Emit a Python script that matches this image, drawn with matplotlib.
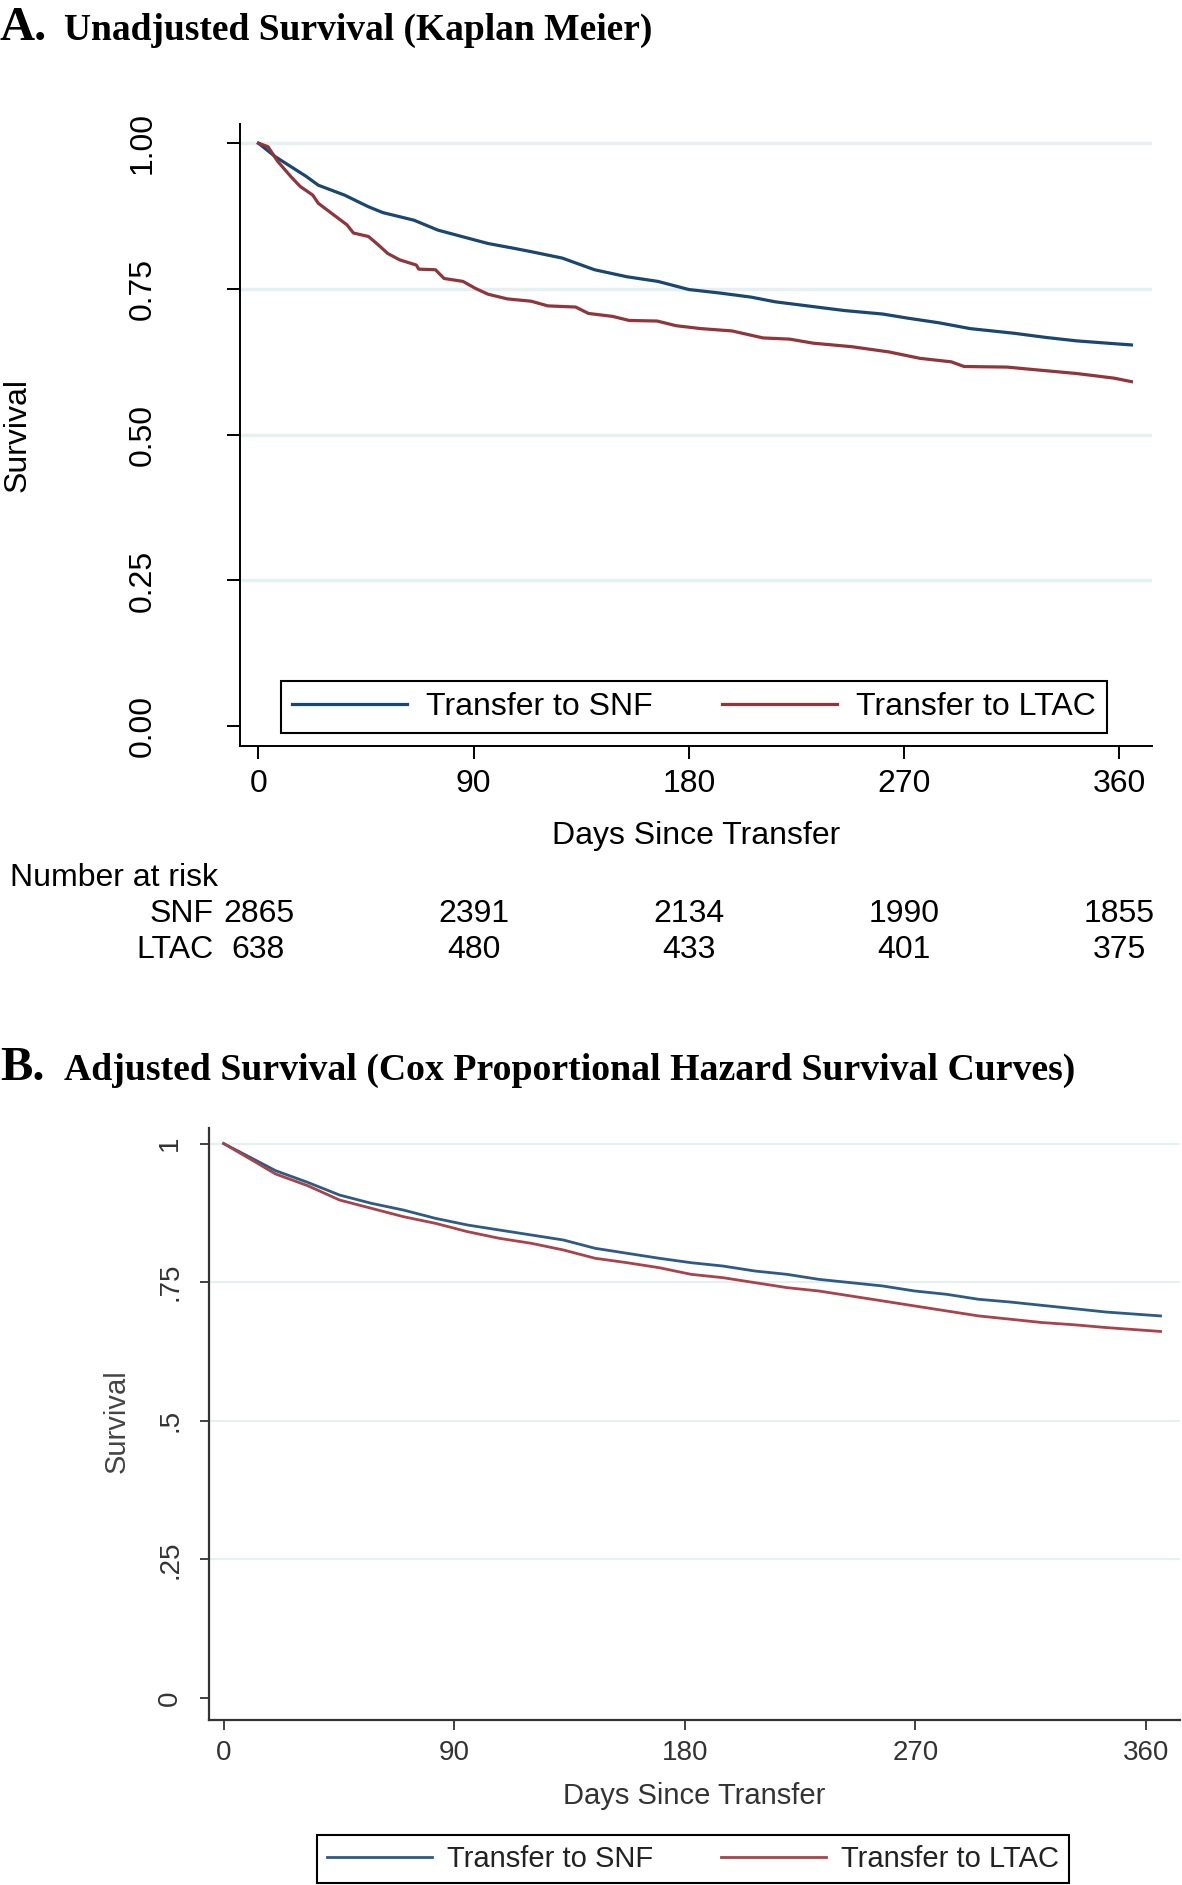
import matplotlib
matplotlib.use('Agg')
import matplotlib.pyplot as plt
import matplotlib.transforms as mtrans
from matplotlib import font_manager

# ---------------- data ----------------
# Panel A: Kaplan-Meier (unadjusted)
km_snf_days = [0, 7, 20, 25, 36, 46, 52, 65, 75, 85, 96, 106.5, 114, 127, 140.5, 154, 167, 180,
               193, 206, 216, 229.5, 245, 261, 271.4, 284.5, 297.6, 316, 329, 342, 355, 365]
km_snf_surv = [1.0, 0.977, 0.943, 0.928, 0.911, 0.891, 0.881, 0.868, 0.851, 0.840, 0.828, 0.820,
               0.814, 0.803, 0.783, 0.771, 0.763, 0.749, 0.743, 0.736, 0.728, 0.721, 0.713, 0.707,
               0.700, 0.692, 0.682, 0.674, 0.667, 0.661, 0.657, 0.654]
km_ltac_days = [0, 4, 8, 13.5, 17.4, 22.7, 25, 30.5, 37, 39.7, 46, 50, 54, 59, 66, 67, 74, 77.6,
                85.5, 90.7, 96, 104, 114, 121, 132.6, 138, 148, 155, 166.7, 174.6, 185, 198, 211,
                222, 232, 248, 263.6, 276.6, 289.7, 295, 313, 326, 342, 350, 357.8, 365]
km_ltac_surv = [1.0, 0.994, 0.969, 0.943, 0.926, 0.911, 0.897, 0.880, 0.860, 0.846, 0.840, 0.826,
                0.811, 0.800, 0.791, 0.784, 0.783, 0.768, 0.763, 0.751, 0.741, 0.733, 0.729, 0.721,
                0.719, 0.708, 0.703, 0.696, 0.695, 0.687, 0.682, 0.678, 0.666, 0.664, 0.657, 0.651,
                0.642, 0.631, 0.625, 0.617, 0.616, 0.611, 0.605, 0.601, 0.597, 0.591]

# Panel B: Cox adjusted survival curves
cox_days = [0, 10.4, 20.3, 32.8, 45.3, 57.8, 70.2, 82.7, 95.2, 107.6, 120.1, 132.6, 145.0, 157.5,
            170.0, 182.5, 194.9, 207.4, 219.9, 232.3, 244.8, 257.3, 269.7, 282.2, 294.7, 307.2,
            319.6, 332.1, 344.5, 365.7]
cox_snf_surv = [1.0, 0.975, 0.951, 0.930, 0.907, 0.892, 0.880, 0.865, 0.853, 0.844, 0.835, 0.826,
                0.811, 0.802, 0.793, 0.785, 0.779, 0.770, 0.764, 0.755, 0.749, 0.743, 0.734, 0.728,
                0.719, 0.714, 0.708, 0.702, 0.696, 0.689]
cox_ltac_surv = [1.0, 0.972, 0.945, 0.924, 0.898, 0.883, 0.868, 0.856, 0.841, 0.829, 0.820, 0.808,
                 0.793, 0.785, 0.776, 0.764, 0.758, 0.749, 0.740, 0.734, 0.725, 0.716, 0.707, 0.698,
                 0.689, 0.683, 0.677, 0.673, 0.668, 0.661]

risk_days = [0, 90, 180, 270, 360]
risk_snf = [2865, 2391, 2134, 1990, 1855]
risk_ltac = [638, 480, 433, 401, 375]

x_ticks = [0, 90, 180, 270, 360]
yA_ticks = [0.0, 0.25, 0.5, 0.75, 1.0]
yA_labels = ['0.00', '0.25', '0.50', '0.75', '1.00']
yB_labels = ['0', '.25', '.5', '.75', '1']

labels = ['Transfer to SNF', 'Transfer to LTAC']

# ---------------- style ----------------
names = {f.name for f in font_manager.fontManager.ttflist}
SANS = 'Liberation Sans' if 'Liberation Sans' in names else 'DejaVu Sans'
NARROW = 'Liberation Sans Narrow' if 'Liberation Sans Narrow' in names else SANS
SERIF = 'Liberation Serif' if 'Liberation Serif' in names else 'DejaVu Serif'

BLUE = '#1a476f'
RED = '#90353b'
BLUE_B = '#2d5b86'
RED_B = '#a8434b'
GRID = '#e6eff1'

W, H = 1182, 1885
fig = plt.figure(figsize=(W / 100, H / 100), dpi=100)

def fx(px):
    return px / W

def fy(py):
    return 1 - py / H

# ---------------- titles ----------------
fig.text(fx(0), fy(40), 'A.', family=SERIF, weight='bold', fontsize=35, va='baseline', ha='left')
fig.text(fx(64), fy(40), 'Unadjusted Survival (Kaplan Meier)', family=SERIF, weight='bold',
         fontsize=27, va='baseline', ha='left')
fig.text(fx(0), fy(1080), 'B.', family=SERIF, weight='bold', fontsize=35, va='baseline', ha='left')
fig.text(fx(64), fy(1080), 'Adjusted Survival (Cox Proportional Hazard Survival Curves)',
         family=SERIF, weight='bold', fontsize=27.2, va='baseline', ha='left')

# ---------------- panel A ----------------
axA = fig.add_axes([fx(240), fy(746), fx(912), 622 / H])
axA.set_xlim(-7.73, 373.6)
axA.set_ylim(-0.034, 1.033)
for yv in yA_ticks[1:]:
    axA.axhline(yv, color=GRID, lw=2.5, zorder=0)
axA.plot(km_snf_days, km_snf_surv, color=BLUE, lw=2.3, label=labels[0], zorder=3)
axA.plot(km_ltac_days, km_ltac_surv, color=RED, lw=2.3, label=labels[1], zorder=3)
for s in ['top', 'right']:
    axA.spines[s].set_visible(False)
for s in ['left', 'bottom']:
    axA.spines[s].set_linewidth(1.4)
axA.set_xticks(x_ticks)
axA.set_xticklabels([str(v) for v in x_ticks], family=SANS, fontsize=23)
axA.set_yticks(yA_ticks)
axA.set_yticklabels(yA_labels, family=SANS, fontsize=23, rotation=90, va='center')
axA.tick_params(axis='y', length=9.5, width=1.4, pad=50)
axA.tick_params(axis='x', length=9.5, width=1.4, pad=7)
legA = axA.legend(loc='lower left', bbox_to_anchor=(0.045, 0.021, 0.906, 0.093), mode='expand',
                  ncol=2, frameon=True, fancybox=False, edgecolor='black', framealpha=1,
                  prop={'family': SANS, 'size': 23}, handlelength=3.6, handletextpad=0.6,
                  columnspacing=0.8, borderaxespad=0, borderpad=0.35)
legA.get_frame().set_linewidth(1.5)

fig.text(fx(18), fy(435), 'Survival', family=SANS, fontsize=23, rotation=90, ha='center', va='center')
fig.text(fx(696), fy(836), 'Days Since Transfer', family=SANS, fontsize=23, ha='center', va='center')

# number at risk table
fig.text(fx(10), fy(878), 'Number at risk', family=SANS, fontsize=23, ha='left', va='center')
fig.text(fx(214), fy(914), 'SNF', family=SANS, fontsize=23, ha='right', va='center')
fig.text(fx(214), fy(950), 'LTAC', family=SANS, fontsize=23, ha='right', va='center')
trA = mtrans.blended_transform_factory(axA.transData, fig.transFigure)
for d, n in zip(risk_days, risk_snf):
    axA.text(d, fy(914), str(n), transform=trA, family=SANS, fontsize=23, ha='center', va='center',
             clip_on=False)
for d, n in zip(risk_days, risk_ltac):
    axA.text(d, fy(950), str(n), transform=trA, family=SANS, fontsize=23, ha='center', va='center',
             clip_on=False)

# ---------------- panel B ----------------
axB = fig.add_axes([fx(209), fy(1719.5), fx(971), 591.5 / H])
axB.set_xlim(-5.7, 373.3)
axB.set_ylim(-0.039, 1.028)
for yv in yA_ticks[1:]:
    axB.axhline(yv, color=GRID, lw=1.5, zorder=0)
axB.plot(cox_days, cox_snf_surv, color=BLUE_B, lw=2.0, label=labels[0], zorder=3)
axB.plot(cox_days, cox_ltac_surv, color=RED_B, lw=2.0, label=labels[1], zorder=3)
for s in ['top', 'right']:
    axB.spines[s].set_visible(False)
for s in ['left', 'bottom']:
    axB.spines[s].set_linewidth(1.6)
    axB.spines[s].set_color('#333333')
axB.set_xticks(x_ticks)
axB.set_xticklabels([str(v) for v in x_ticks], family=NARROW, fontsize=20, color='#333333')
axB.set_yticks(yA_ticks)
axB.set_yticklabels(yB_labels, family=NARROW, fontsize=20, color='#333333', rotation=90, va='center')
axB.tick_params(axis='y', length=6.5, width=1.3, pad=12, color='#333333')
axB.tick_params(axis='x', length=7.5, width=1.3, pad=7, color='#333333')

fig.text(fx(117), fy(1421), 'Survival', family=NARROW, fontsize=21, color='#444444', rotation=90,
         ha='center', va='center')
fig.text(fx(694), fy(1796), 'Days Since Transfer', family=NARROW, fontsize=21, color='#333333',
         ha='center', va='center')

h, l = axB.get_legend_handles_labels()
legB = fig.legend(h, l, loc='lower left', bbox_to_anchor=(fx(317), fy(1883), fx(752), 53 / H),
                  mode='expand', ncol=2, frameon=True, fancybox=False, edgecolor='black',
                  framealpha=1, prop={'family': NARROW, 'size': 21}, handlelength=3.6,
                  handletextpad=0.5, columnspacing=1.0, borderaxespad=0, borderpad=0.35)
legB.get_frame().set_linewidth(1.5)
for t in legB.get_texts():
    t.set_color('#222222')

fig.savefig('out.png', dpi=100)
